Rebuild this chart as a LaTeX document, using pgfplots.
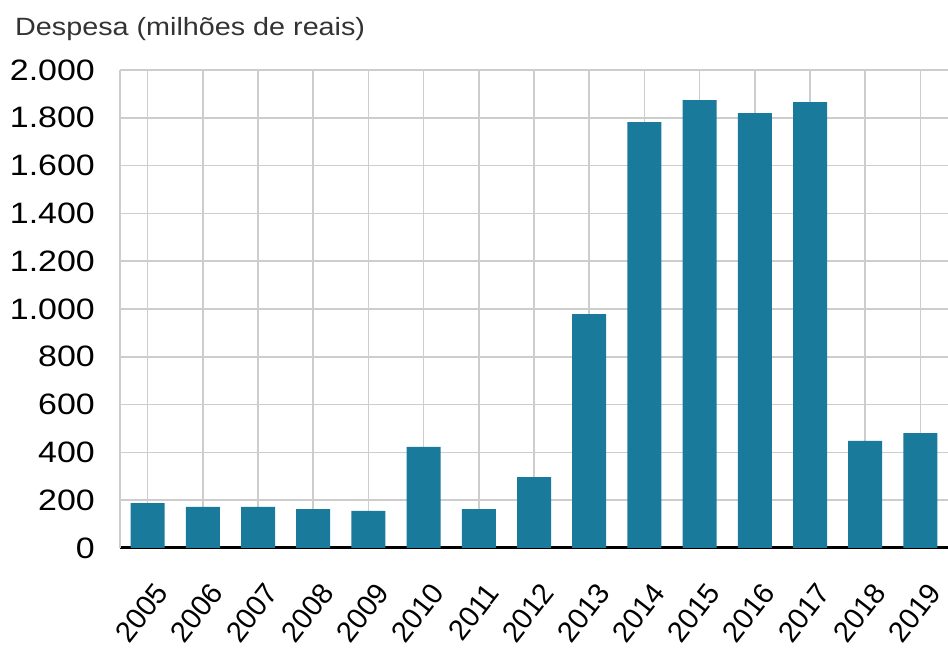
\documentclass[border=0pt]{standalone}
\usepackage{fontspec}
\setmainfont{Liberation Sans}[FakeStretch=1.15]
\newfontfamily\plainsans{Liberation Sans}
\usepackage{pgfplots}
\pgfplotsset{compat=1.18}
\definecolor{barblue}{RGB}{26,122,155}
\definecolor{gridgray}{RGB}{205,205,205}

\begin{document}
\begin{tikzpicture}
\begin{axis}[
    at={(0pt,0pt)}, anchor=south west,
    scale only axis,
    width=828pt, height=478pt,
    xmin=-0.5, xmax=14.5,
    ymin=0, ymax=2000,
    xtick=data,
    xticklabels={2005,2006,2007,2008,2009,2010,2011,2012,2013,2014,2015,2016,2017,2018,2019},
    ytick={0,200,...,2000},
    yticklabels={0,200,400,600,800,1.000,1.200,1.400,1.600,1.800,2.000},
    major tick length=0pt,
    xmajorgrids, ymajorgrids,
    grid style={gridgray, line width=1.5pt},
    axis lines*=left,
    axis line style={-},
    x axis line style={black, line width=3pt},
    y axis line style={gridgray, line width=1.5pt},
    yticklabel style={font=\fontsize{29.5}{30}\selectfont, anchor=east, inner sep=0pt, xshift=-25pt},
    xticklabel style={font=\plainsans\fontsize{29}{29}\selectfont, anchor=east, inner sep=0pt, xshift=14pt, yshift=-39pt, rotate=52},
    ybar, bar width=34pt,
]
\addplot[fill=barblue, draw=none] coordinates {
    (0,188) (1,172) (2,172) (3,163) (4,155) (5,423) (6,163) (7,297)
    (8,979) (9,1782) (10,1874) (11,1820) (12,1866) (13,448) (14,481)
};
\end{axis}
\node[anchor=base west, inner sep=0pt, font=\fontsize{25}{25}\selectfont, text=black!80] at (-105pt,512pt) {Despesa (milhões de reais)};
\pgfresetboundingbox
\path[use as bounding box] (-120pt,-102pt) rectangle (828pt,548pt);
\end{tikzpicture}
\end{document}
